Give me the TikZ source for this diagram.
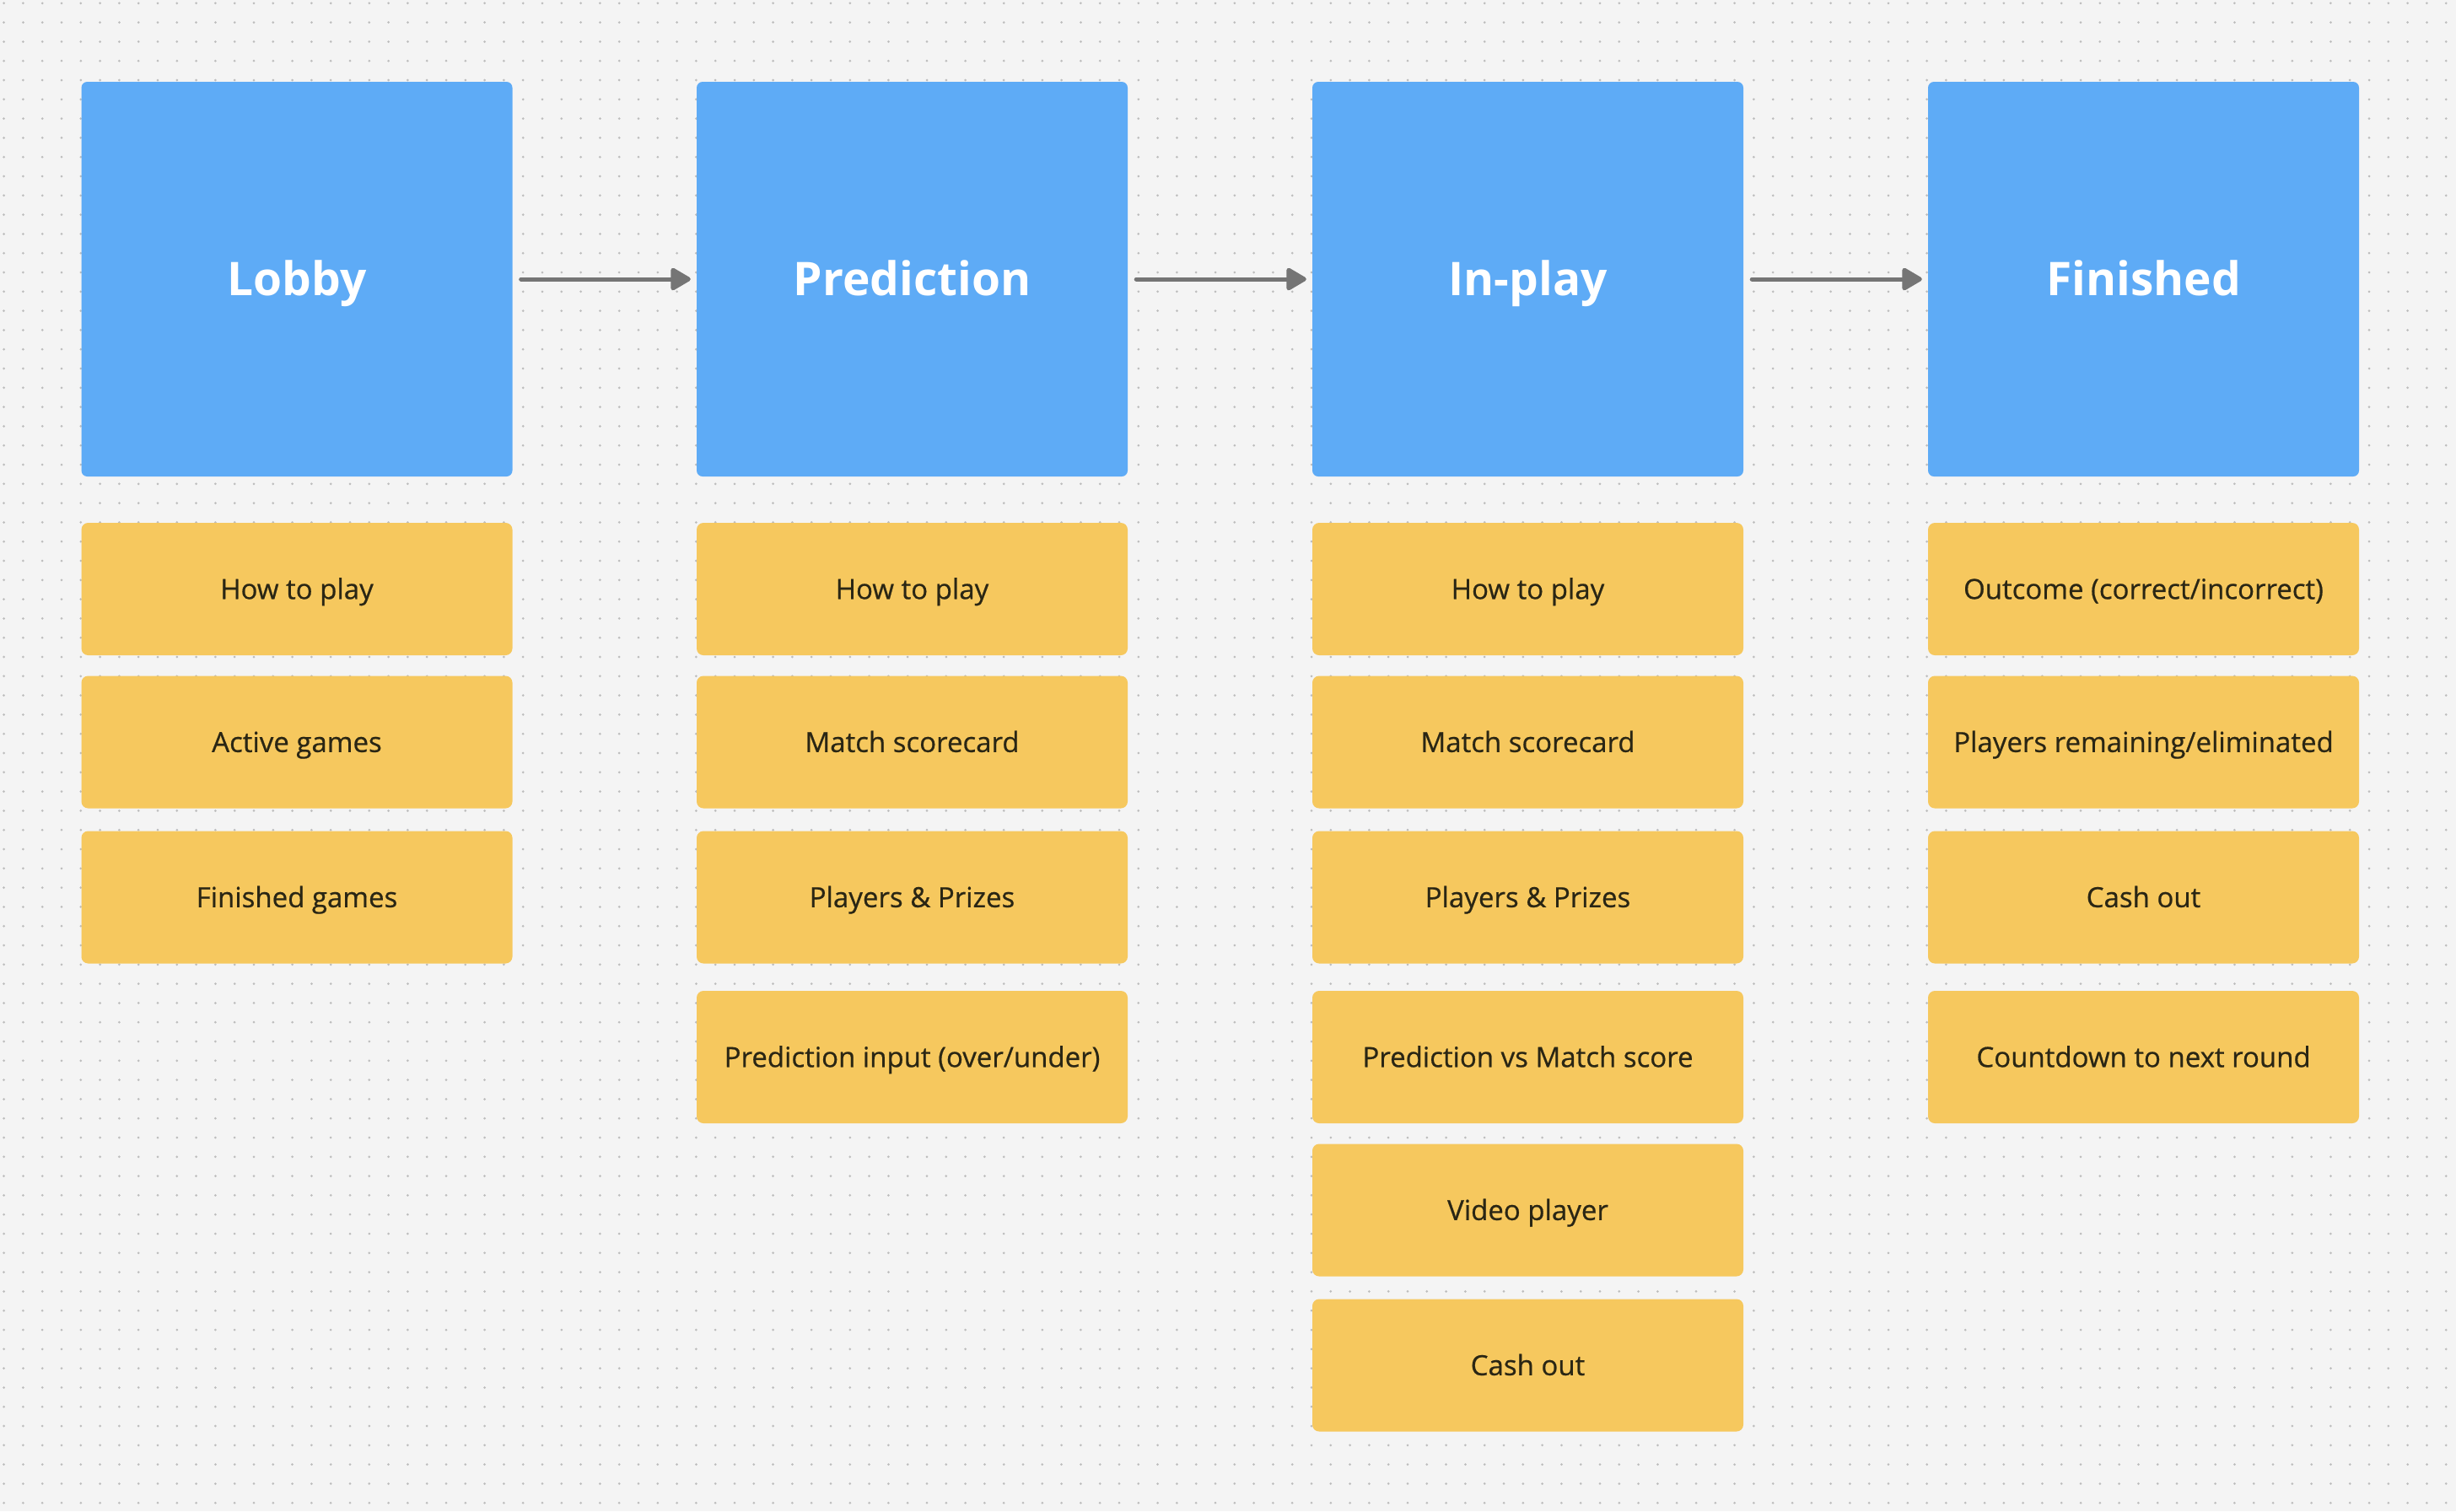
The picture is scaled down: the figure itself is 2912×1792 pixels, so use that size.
\documentclass[tikz,border=0pt]{standalone}
\usepackage{fontspec}
\setmainfont{Open Sans}
\newfontfamily\itemfont[FakeBold=0.6]{Open Sans}
\usetikzlibrary{arrows.meta}
\definecolor{bgc}{HTML}{F4F4F4}
\definecolor{dotc}{HTML}{BDBDBD}
\definecolor{bluec}{HTML}{5EABF6}
\definecolor{yellowc}{HTML}{F6C85E}
\definecolor{txtc}{HTML}{2A2614}
\definecolor{arrc}{HTML}{757575}
\tikzset{
  griddot/.style={dotc, line width=3pt, line cap=round, dash pattern=on 0pt off 22.8pt},
  stage/.style={fill=bluec, rounded corners=7pt, minimum width=511pt, minimum height=468pt, inner sep=0pt, text=white, font=\fontsize{55}{60}\selectfont\bfseries, text height=39.3pt, text depth=0pt},
  item/.style={fill=yellowc, rounded corners=8pt, minimum width=511pt, minimum height=157pt, inner sep=0pt, text=txtc, font=\itemfont\fontsize{33}{38}\selectfont, text height=23.6pt, text depth=0pt},
  flow/.style={arrc, line width=5pt, line cap=round, shorten <=10pt, shorten >=7pt, -{Triangle[length=26pt,width=29pt,round]}}
}
\begin{document}
\begin{tikzpicture}[x=1pt,y=-1pt]
\fill[bgc] (0,0) rectangle (2912,1792);
\useasboundingbox (0,0) rectangle (2912,1792);
\foreach \j in {0,...,78} {
  \draw[griddot] (4.6,{3.8+22.8*\j}) -- (2912,{3.8+22.8*\j});
}
% stages
\node[stage] (lobby) at (352,331) {Lobby};
\node[stage] (pred) at (1081.5,331) {Prediction};
\node[stage] (inplay) at (1811.5,331) {In-play};
\node[stage] (fin) at (2541.5,331) {Finished};
\draw[flow] (lobby.east) -- (pred.west);
\draw[flow] (pred.east) -- (inplay.west);
\draw[flow] (inplay.east) -- (fin.west);
% Lobby column
\node[item] (l1) at (352,698.5) {How to play};
\node[item] (l2) at (352,880) {Active games};
\node[item] (l3) at (352,1064) {Finished games};
% Prediction column
\node[item] (p1) at (1081.5,698.5) {How to play};
\node[item] (p2) at (1081.5,880) {Match scorecard};
\node[item] (p3) at (1081.5,1064) {Players \& Prizes};
\node[item] (p4) at (1081.5,1253.5) {Prediction input (over/under)};
% In-play column
\node[item] (i1) at (1811.5,698.5) {How to play};
\node[item] (i2) at (1811.5,880) {Match scorecard};
\node[item] (i3) at (1811.5,1064) {Players \& Prizes};
\node[item] (i4) at (1811.5,1253.5) {Prediction vs Match score};
\node[item] (i5) at (1811.5,1435) {Video player};
\node[item] (i6) at (1811.5,1619) {Cash out};
% Finished column
\node[item] (f1) at (2541.5,698.5) {Outcome (correct/incorrect)};
\node[item] (f2) at (2541.5,880) {Players remaining/eliminated};
\node[item] (f3) at (2541.5,1064) {Cash out};
\node[item] (f4) at (2541.5,1253.5) {Countdown to next round};
\end{tikzpicture}
\end{document}
